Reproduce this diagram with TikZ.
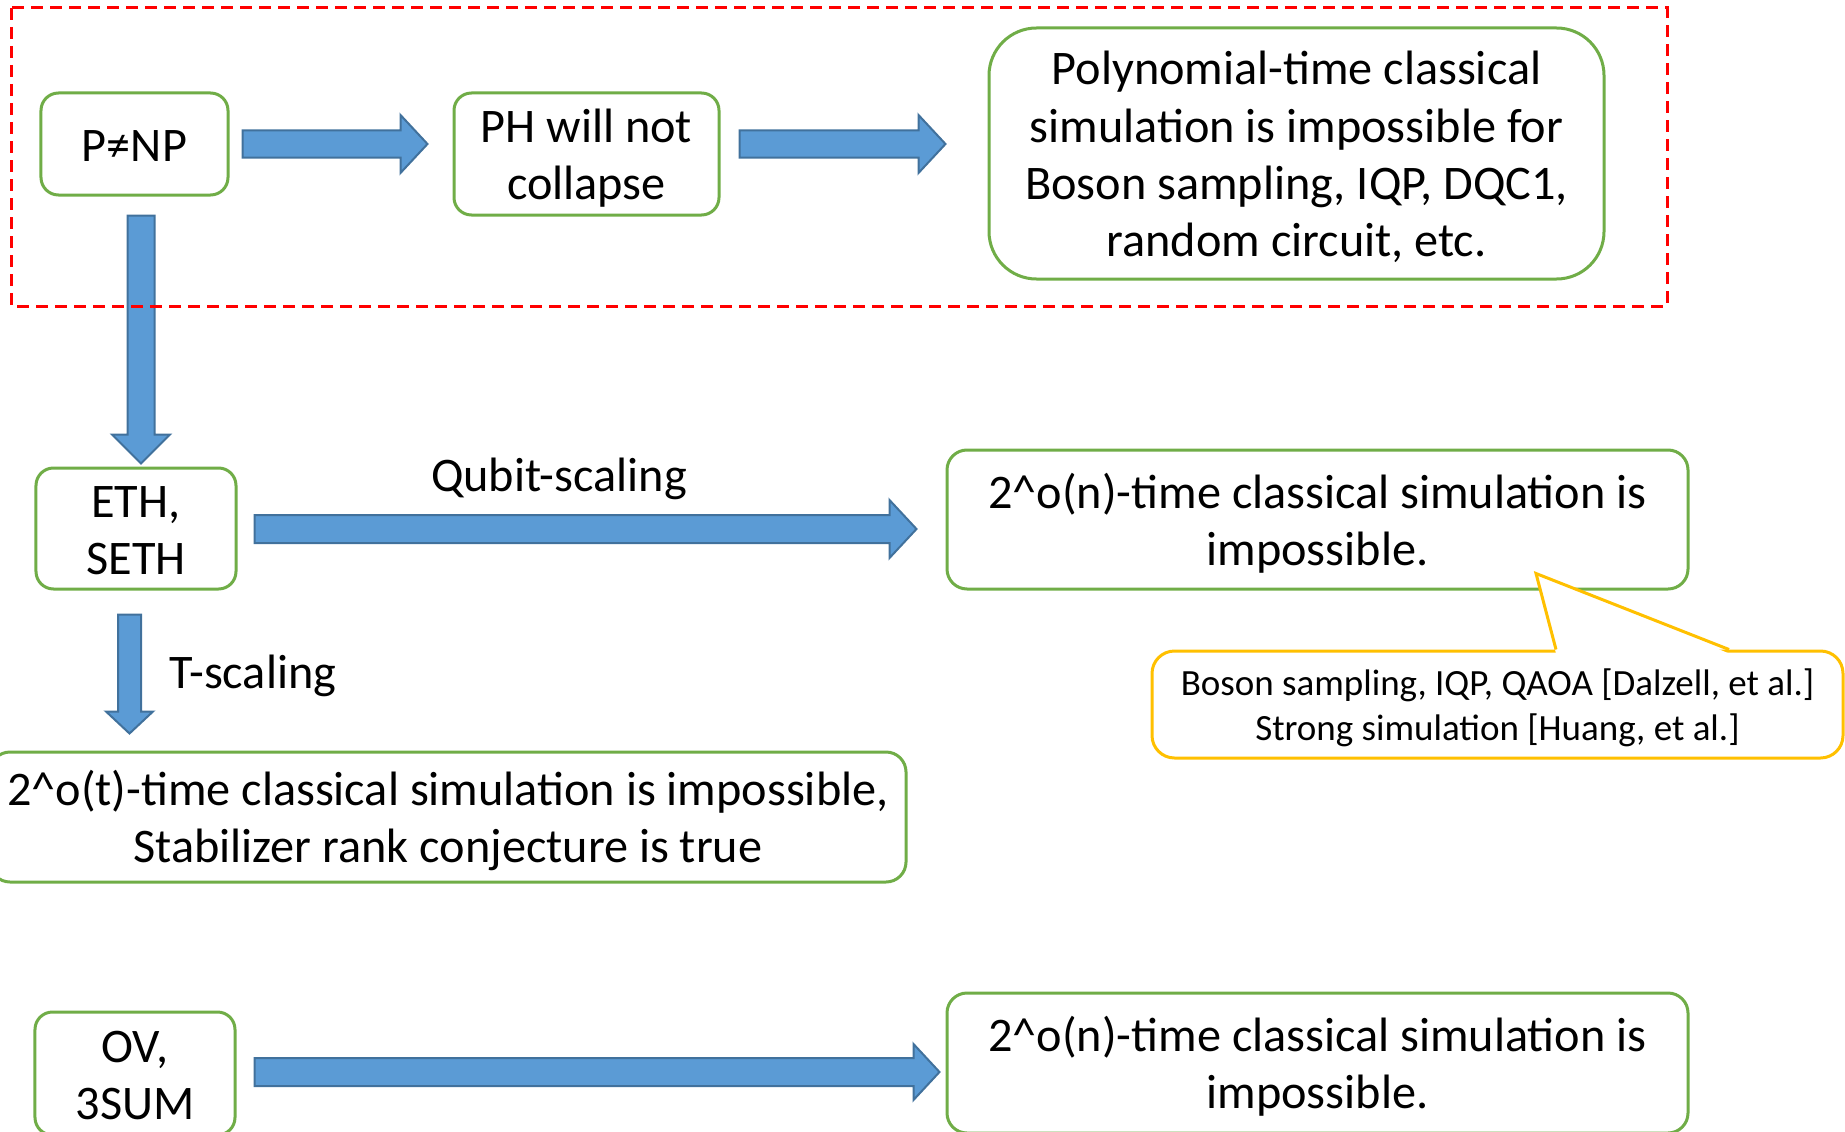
\documentclass[tikz,border=0pt]{standalone}
\usepackage{fontspec}
\setmainfont{Carlito}
\usetikzlibrary{calc}

\definecolor{boxgreen}{HTML}{70AD47}
\definecolor{arrowblue}{HTML}{5B9BD5}
\definecolor{arrowedge}{HTML}{41719C}
\definecolor{callgold}{HTML}{FFC000}

% fixed line extents, so every text block sits the same way in its box
\newcommand\hs{\rule[-4pt]{0pt}{21.8pt}}
\newcommand\ns{\rule[-3pt]{0pt}{16.9pt}}

\tikzset{
  idea/.style={draw=boxgreen, line width=1.2pt, fill=white, rounded corners=7pt,
    align=center, inner sep=0pt, font=\fontsize{19.3}{22.9}\selectfont},
  note/.style={draw=callgold, line width=1.2pt, fill=white, rounded corners=9pt,
    align=center, inner sep=0pt, font=\fontsize{14.8}{17.9}\selectfont},
  tag/.style={inner sep=0pt, font=\fontsize{19.3}{22.9}\selectfont},
  blockarrow/.style={fill=arrowblue, draw=arrowedge, line width=0.8pt, line join=miter},
  frame/.style={draw=red, line width=1.2pt, dash pattern=on 4.8pt off 2.8pt}
}

% block arrow pointing right: tail, tip, half shaft, half head, head length
\newcommand\rightblock[5]{%
  \filldraw[blockarrow] let \p1=(#1), \p2=(#2) in
    (\x1,{\y1+#3}) -- ({\x2-#5},{\y1+#3}) -- ({\x2-#5},{\y1+#4}) -- (\x2,\y1)
    -- ({\x2-#5},{\y1-#4}) -- ({\x2-#5},{\y1-#3}) -- (\x1,{\y1-#3}) -- cycle;}
% block arrow pointing down: tail, tip, half shaft, half head, head length
\newcommand\downblock[5]{%
  \filldraw[blockarrow] let \p1=(#1), \p2=(#2) in
    ({\x1-#3},\y1) -- ({\x1-#3},{\y2+#5}) -- ({\x1-#4},{\y2+#5}) -- (\x1,\y2)
    -- ({\x1+#4},{\y2+#5}) -- ({\x1+#3},{\y2+#5}) -- ({\x1+#3},\y1) -- cycle;}

\begin{document}
\begin{tikzpicture}[x=0.4pt,y=-0.4pt]
\useasboundingbox (0,0) rectangle (1845,1132);

% statements
\node[idea, minimum width=74.8pt, minimum height=40.8pt] (pnp) at (134.5,144) {\hs P≠NP\hs};
\node[idea, minimum width=106pt, minimum height=48.8pt] (ph) at (586.5,154) {\hs PH will not\\collapse\hs};
\node[idea, minimum width=246pt, minimum height=100.4pt, rounded corners=19pt] (poly) at (1296.5,153.5)
  {\hs Polynomial-time classical\\simulation is impossible for\\Boson sampling, IQP, DQC1,\\random circuit, etc.\hs};
\node[idea, minimum width=80pt, minimum height=48.4pt] (eth) at (136,528.5) {\hs ETH,\\SETH\hs};
\node[idea, minimum width=296.4pt, minimum height=55.6pt, rounded corners=8pt] (qn1) at (1317.5,519.5)
  {\hs 2\^{}o(n)-time classical simulation is\\impossible.\hs};
\node[idea, minimum width=366.4pt, minimum height=52pt, rounded corners=8pt] (tbox) at (448,817)
  {\hs 2\^{}o(t)-time classical simulation is impossible,\\Stabilizer rank conjecture is true\hs};
\node[idea, minimum width=80pt, minimum height=49.2pt] (ov) at (135,1073.5) {\hs OV,\\3SUM\hs};
\node[idea, minimum width=296.4pt, minimum height=56pt, rounded corners=8pt] (qn2) at (1317.5,1063)
  {\hs 2\^{}o(n)-time classical simulation is\\impossible.\hs};

% callout with its pointer
\node[note, minimum width=276.4pt, minimum height=42.8pt] (ref) at (1497.5,704.5)
  {\ns Boson sampling, IQP, QAOA [Dalzell, et al.]\\Strong simulation [Huang, et al.]\ns};
\coordinate (pl) at ($(ref.north)+(58.5,0)$);
\coordinate (pr) at ($(ref.north)+(231.5,0)$);
\coordinate (ptip) at ($(qn1.south)+(218.5,-17)$);
\fill[white] ($(pl)+(0,4)$) -- (ptip) -- ($(pr)+(0,4)$) -- cycle;
\draw[callgold, line width=1.2pt, line join=miter] (pl) -- (ptip) -- (pr);

% arrow end points
\coordinate (a1s) at ($(pnp.east)+(13,0)$);
\coordinate (a1e) at ($(ph.west |- pnp.east)+(-25,0)$);
\coordinate (a2s) at ($(ph.east |- pnp.east)+(19,0)$);
\coordinate (a2e) at ($(poly.west |- pnp.east)+(-42,0)$);
\coordinate (a3s) at ($(pnp.south)+(6.5,19)$);
\coordinate (a3e) at ($(eth.north)+(5,-3)$);
\coordinate (a4s) at ($(eth.east)+(17,0.5)$);
\coordinate (a4e) at ($(qn1.west |- a4s)+(-29,0)$);
\coordinate (a5s) at ($(eth.south)+(-6.5,24)$);
\coordinate (a5e) at ($(tbox.north -| a5s)+(0,-17)$);
\coordinate (a6s) at ($(ov.east)+(18,-1.5)$);
\coordinate (a6e) at ($(qn2.west |- a6s)+(-6,0)$);

\rightblock{a1s}{a1e}{5.4pt}{11.6pt}{10.8pt}
\rightblock{a2s}{a2e}{5.4pt}{11.6pt}{10.8pt}
\downblock{a3s}{a3e}{5.4pt}{11.6pt}{11.6pt}
\rightblock{a4s}{a4e}{5.6pt}{11.6pt}{10.8pt}
\downblock{a5s}{a5e}{4.6pt}{9.4pt}{8.8pt}
\rightblock{a6s}{a6e}{5.6pt}{11.2pt}{10.4pt}

% arrow captions
\node[tag] (qlab) at (559,474.5) {\hs Qubit-scaling};
\node[tag, anchor=west] (tlab) at (169,671) {\hs T-scaling};

% dashed grouping frame
\draw[frame] (11,8) rectangle (1667,306);
\end{tikzpicture}
\end{document}
